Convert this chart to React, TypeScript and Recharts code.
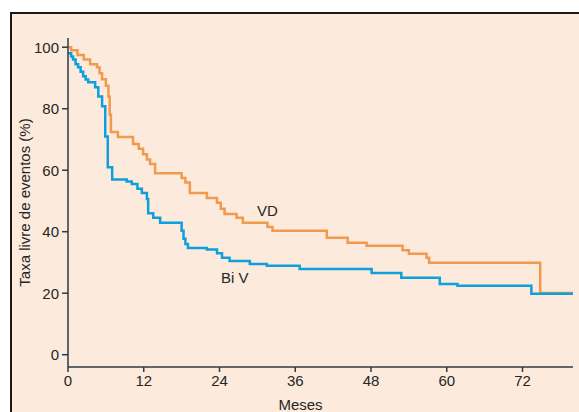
import { LineChart, Line, XAxis, YAxis, ReferenceDot } from 'recharts';

// Kaplan-Meier steps (months, % event-free)
const vdMonths = [
  0, 0.5, 1.5, 2.5, 3.5, 4.6, 5.0, 5.4, 6.0, 6.4, 6.6, 6.8, 7.9, 10.3, 11.2, 11.9, 12.5, 13.0, 13.8,
  18.0, 18.6, 19.3, 22.0, 23.6, 24.2, 24.8, 26.7, 27.7, 31.6, 32.4, 41.0, 44.3, 47.3, 53.0, 54.0,
  56.8, 57.2, 74.8, 80,
];
const vdSurvival = [
  100, 99, 97.5, 96, 94.5, 93.5, 91.5, 89.6, 87.5, 84, 78, 72.4, 70.8, 68.5, 67, 65.2, 63.5, 62, 59,
  57.5, 56, 52.6, 51, 49.4, 47.5, 45.8, 44.5, 42.9, 41.5, 40.3, 38, 36.4, 35.4, 34, 32.8,
  31.5, 29.9, 20.1, 20.1,
];

const bivMonths = [
  0, 0.5, 0.8, 1.2, 1.6, 2.0, 2.4, 2.8, 3.2, 4.3, 4.8, 5.4, 5.9, 6.3, 7.0, 9.3, 10.1, 11.0, 11.7,
  12.5, 12.7, 13.5, 14.6, 18.0, 18.3, 18.6, 19.0, 22.0, 23.6, 24.4, 25.6, 28.8, 31.5, 36.7, 48.1,
  52.8, 58.9, 61.7, 73.4, 80,
];
const bivSurvival = [
  98, 97, 96, 94.5, 93.5, 92, 90.6, 89.5, 88.6, 87, 84, 80.8, 71, 61, 57, 56.3, 55.5, 54, 52.6,
  50.6, 46, 44.5, 42.9, 40.3, 37.7, 36, 34.7, 34.2, 33, 31.5, 30.5, 29.5, 28.9, 27.9, 26.6,
  25, 23, 22.4, 19.8, 19.8,
];

const xTicks = [0, 12, 24, 36, 48, 60, 72];
const yTicks = [0, 20, 40, 60, 80, 100];

const vdData = vdMonths.map((m, i) => ({ m, v: vdSurvival[i] }));
const bivData = bivMonths.map((m, i) => ({ m, v: bivSurvival[i] }));

const FONT = '"Liberation Sans", Arial, sans-serif';
const AXIS = '#2e3b42';
const TEXT = '#262626';
const tick = { fontSize: 15, fill: TEXT, fontFamily: FONT };

export default function App() {
  return (
    <div style={{ position: 'absolute', left: 0, top: 0, width: 579, height: 412, background: '#fff', overflow: 'hidden' }}>
      <div
        style={{
          position: 'absolute',
          left: 10,
          top: 12,
          width: 569,
          height: 400,
          background: '#fcebdc',
          borderTop: '2px solid #1a1a1a',
          borderLeft: '2px solid #1a1a1a',
        }}
      />
      <div style={{ position: 'absolute', left: 0, top: 0 }}>
        <LineChart width={579} height={412} margin={{ top: 38, right: 6, bottom: 0, left: 0 }}>
          <XAxis
            type="number"
            dataKey="m"
            domain={[0, 80]}
            ticks={xTicks}
            allowDataOverflow
            height={45}
            tick={tick}
            tickSize={5}
            tickMargin={3}
            stroke={AXIS}
            strokeWidth={1.5}
            label={{ value: 'Meses', position: 'insideBottom', offset: 2, dx: -20, style: { fontSize: 15, fill: TEXT, fontFamily: FONT } }}
          />
          <YAxis
            type="number"
            domain={[-4, 103]}
            ticks={yTicks}
            allowDataOverflow
            width={68}
            tick={tick}
            tickSize={6}
            tickMargin={3}
            stroke={AXIS}
            strokeWidth={1.5}
            label={{
              value: 'Taxa livre de eventos (%)',
              angle: -90,
              position: 'insideLeft',
              offset: 25,
              style: { fontSize: 15, fill: TEXT, fontFamily: FONT, textAnchor: 'middle' },
            }}
          />
          <Line data={vdData} dataKey="v" type="stepAfter" stroke="#f19a4e" strokeWidth={2.5} dot={false} isAnimationActive={false} />
          <Line data={bivData} dataKey="v" type="stepAfter" stroke="#0ea0dc" strokeWidth={2.5} dot={false} isAnimationActive={false} />
          <ReferenceDot
            x={31.6}
            y={47}
            r={0}
            fill="none"
            stroke="none"
            label={{ value: 'VD', position: 'center', style: { fontSize: 15, fill: TEXT, fontFamily: FONT } }}
          />
          <ReferenceDot
            x={26.4}
            y={25}
            r={0}
            fill="none"
            stroke="none"
            label={{ value: 'Bi V', position: 'center', style: { fontSize: 15, fill: TEXT, fontFamily: FONT } }}
          />
        </LineChart>
      </div>
    </div>
  );
}
